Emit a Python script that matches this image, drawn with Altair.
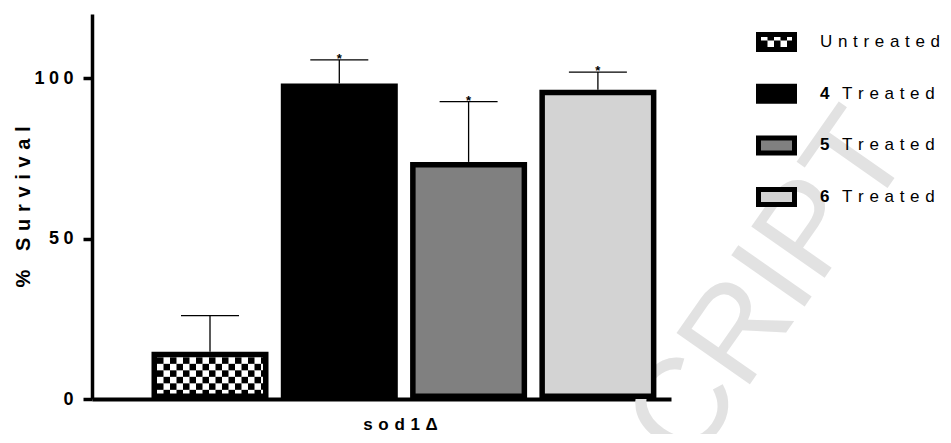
import altair as alt
import pandas as pd

# ---------------- data ----------------
groups = ["Untreated", "4 Treated", "5 Treated", "6 Treated"]
legend_numbers = ["", "4", "5", "6"]
legend_words = ["Untreated", "Treated", "Treated", "Treated"]
patterns = ["checker", "solid", "solid", "solid"]
survival = [14.7, 98.3, 73.9, 96.4]
sem = [11.3, 7.4, 18.8, 5.5]
fills = ["#ffffff", "#000000", "#808080", "#d3d3d3"]
stars = ["", "*", "*", "*"]
y_ticks = [0, 50, 100]
x_title = "sod1Δ"
y_title = "% Survival"
watermark = "CRIPT"

# ---------------- geometry / style ----------------
FONT = "Liberation Sans"
W, H = 579, 385
Y_MAX = 120
STEP = 129.3                 # px between bar centres
LEFT_GAP = 118               # px from y axis to first bar centre
X_DOMAIN = [-LEFT_GAP / STEP, -LEFT_GAP / STEP + W / STEP]
PXX = 1 / STEP               # data units per px (x)
PXY = Y_MAX / H              # data units per px (y)
HALF = 58.5 * PXX
CAP = 29 * PXX
STROKE = 5.5
CELL = 6.5


def spaced(s, sep):
    return sep.join(s)


# bars
rows = []
for i, (g, v, e, s) in enumerate(zip(groups, survival, sem, stars)):
    rows.append(dict(group=g, pos=i, value=v, top=v + e, star=s,
                     x1=i - HALF + STROKE / 2 * PXX, x2=i + HALF - STROKE / 2 * PXX,
                     y1=STROKE / 2 * PXY, y2=v - STROKE / 2 * PXY,
                     c1=i - CAP, c2=i + CAP))
bars = pd.DataFrame(rows)


def checker(x0, x1, y0, y1, cw, ch):
    out = []
    c = 0
    x = x0
    while x < x1 - 1e-9:
        r = 0
        y = y1
        while y > y0 + 1e-9:
            if (r + c) % 2 == 0:
                out.append(dict(cx1=x, cx2=min(x + cw, x1), cy1=max(y - ch, y0), cy2=y))
            y -= ch
            r += 1
        x += cw
        c += 1
    return out


cells = []
for i, (v, p) in enumerate(zip(survival, patterns)):
    if p == "checker":
        cells += checker(i - HALF + STROKE * PXX, i + HALF - STROKE * PXX,
                         0, v - STROKE * PXY, CELL * PXX, CELL * PXY)
cells = pd.DataFrame(cells)

xscale = alt.Scale(domain=X_DOMAIN, nice=False, zero=False)
yscale = alt.Scale(domain=[0, Y_MAX], nice=False)
fill_scale = alt.Scale(domain=groups, range=fills)

xaxis = alt.Axis(labels=False, ticks=False, grid=False, domainWidth=4, domainColor="black",
                 title=spaced(x_title, "\u2004"), titleFont=FONT, titleFontSize=17,
                 titleFontWeight="bold", titleColor="black", titleX=308, titleY=30,
                 titleBaseline="alphabetic")
yaxis = alt.Axis(values=y_ticks, grid=False, domainWidth=3.5, domainColor="black",
                 tickColor="black", tickWidth=3.5, tickSize=9,
                 labelFont=FONT, labelFontSize=18, labelFontWeight="bold", labelColor="black",
                 labelPadding=10, labelExpr="join(split(datum.label, ''), '\u2005')",
                 title=spaced(y_title, "\u2004"), titleFont=FONT, titleFontSize=20,
                 titleFontWeight="bold", titleColor="black", titlePadding=0)

wm = alt.Chart(pd.DataFrame({"t": [watermark]})).mark_text(
    font=FONT, fontSize=130, color="#e2e2e2", align="left", baseline="alphabetic", angle=305
).encode(x=alt.value(598), y=alt.value(456), text="t:N")

bar_layer = alt.Chart(bars).mark_rect(stroke="black", strokeWidth=STROKE, strokeJoin="miter").encode(
    x=alt.X("x1:Q", scale=xscale, axis=xaxis),
    x2="x2:Q",
    y=alt.Y("y1:Q", scale=yscale, axis=yaxis),
    y2="y2:Q",
    fill=alt.Fill("group:N", scale=fill_scale, legend=None),
)

check_layer = alt.Chart(cells).mark_rect(color="black", strokeWidth=0).encode(
    x="cx1:Q", x2="cx2:Q", y="cy1:Q", y2="cy2:Q")

err_stem = alt.Chart(bars).mark_rule(color="black", strokeWidth=1.3).encode(
    x="pos:Q", y="value:Q", y2="top:Q")
err_cap = alt.Chart(bars).mark_rule(color="black", strokeWidth=1.3).encode(
    x="c1:Q", x2="c2:Q", y="top:Q")
star_layer = alt.Chart(bars).mark_text(font=FONT, fontSize=13, fontWeight="bold", color="black",
                                       baseline="alphabetic", dy=3).encode(
    x="pos:Q", y="top:Q", text="star:N")

main_layers = alt.layer(wm, bar_layer, check_layer, err_stem, err_cap, star_layer)

# ---------------- legend (drawn right of the plot, own pixel-unit scales) ----------------
LEG_X0 = 664            # swatch left, px from plot left
LEG_Y0 = 28             # first row centre, px from plot top
LEG_STEP = 51.7
SW_W, SW_H = 41, 20
leg_rows = []
for i, (g, n, w) in enumerate(zip(groups, legend_numbers, legend_words)):
    c = LEG_Y0 + i * LEG_STEP
    leg_rows.append(dict(group=g, num=n, word=w, c=c,
                         s1=c - (SW_H / 2 - 2.5), s2=c + (SW_H / 2 - 2.5),
                         sx1=LEG_X0 + 2.5, sx2=LEG_X0 + SW_W - 2.5,
                         nx=LEG_X0 + 64, wx=LEG_X0 + (64 if n == "" else 86)))
leg = pd.DataFrame(leg_rows)

leg_cells = []
for i, p in enumerate(patterns):
    if p == "checker":
        c = LEG_Y0 + i * LEG_STEP
        leg_cells += checker(LEG_X0 + 5, LEG_X0 + SW_W - 5, c - (SW_H / 2 - 5), c + (SW_H / 2 - 5),
                             CELL, CELL)
leg_cells = pd.DataFrame(leg_cells)

lx = alt.Scale(domain=[0, W], nice=False, zero=False)
ly = alt.Scale(domain=[0, H], reverse=True, nice=False, zero=False)

sw = alt.Chart(leg).mark_rect(stroke="black", strokeWidth=5, strokeJoin="miter").encode(
    x=alt.X("sx1:Q", scale=lx, axis=None), x2="sx2:Q",
    y=alt.Y("s1:Q", scale=ly, axis=None), y2="s2:Q",
    fill=alt.Fill("group:N", scale=fill_scale, legend=None))
sw_check = alt.Chart(leg_cells).mark_rect(color="black", strokeWidth=0).encode(
    x=alt.X("cx1:Q", scale=lx, axis=None), x2="cx2:Q",
    y=alt.Y("cy1:Q", scale=ly, axis=None), y2="cy2:Q")
num_txt = alt.Chart(leg).mark_text(font=FONT, fontSize=17, fontWeight="bold", color="black",
                                   align="left", baseline="middle").encode(
    x=alt.X("nx:Q", scale=lx, axis=None), y=alt.Y("c:Q", scale=ly, axis=None), text="num:N")
word_txt = alt.Chart(leg).transform_calculate(
    sw="join(split(datum.word, ''), '\u2005\u200a')"
).mark_text(font=FONT, fontSize=17, color="black", align="left", baseline="middle").encode(
    x=alt.X("wx:Q", scale=lx, axis=None), y=alt.Y("c:Q", scale=ly, axis=None), text="sw:N")

legend_layers = alt.layer(sw, sw_check, num_txt, word_txt)

chart = alt.layer(main_layers, legend_layers).resolve_scale(
    x="independent", y="independent"
).properties(
    width=W, height=H,
    autosize=alt.AutoSizeParams(type="none"),
    padding={"left": 84, "top": 6, "right": 272, "bottom": 35},
).configure_view(stroke=None)

chart.save("out.html", embed_options={"renderer": "svg", "actions": False})
